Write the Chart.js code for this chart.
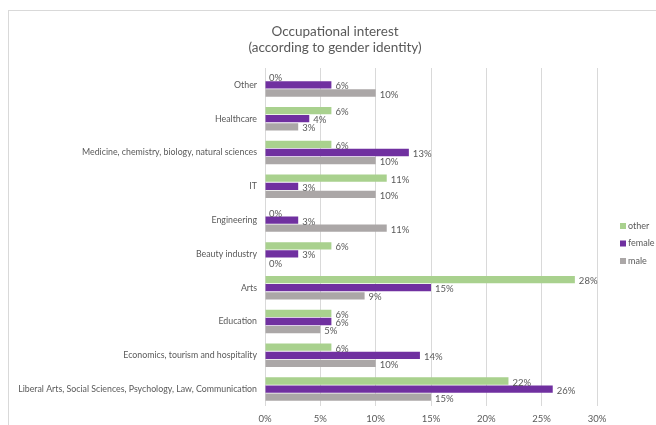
<!DOCTYPE html>
<html>
<head>
<meta charset="utf-8">
<script src="https://cdn.jsdelivr.net/npm/chart.js@4"></script>
<style>
  html, body { margin: 0; padding: 0; background: #fff; overflow: hidden; }
  #frame { position: absolute; left: 8px; top: 10px; width: 700px; height: 500px;
           border-left: 1px solid #d9d9d9; border-top: 1px solid #d9d9d9; }
  #chart { position: absolute; left: 0; top: 0; }
</style>
</head>
<body>
<div id="frame"></div>
<canvas id="chart" width="656" height="425"></canvas>
<script>
// categorias de cima para baixo
const categorias = [
    'Other',
    'Healthcare',
    'Medicine, chemistry, biology, natural sciences',
    'IT',
    'Engineering',
    'Beauty industry',
    'Arts',
    'Education',
    'Economics, tourism and hospitality',
    'Liberal Arts, Social Sciences, Psychology, Law, Communication'
];
const valoresOther  = [0, 6, 6, 11, 0, 6, 28, 6, 6, 22];
const valoresFemale = [6, 4, 13, 3, 3, 3, 15, 6, 14, 26];
const valoresMale   = [10, 3, 10, 10, 11, 0, 9, 5, 10, 15];
const ticksX = [0, 5, 10, 15, 20, 25, 30];

const corTexto = '#595959';
const fonte = 'Lato';

// rótulos de valor no fim de cada barra
const rotulosPlugin = {
    id: 'rotulos',
    afterDatasetsDraw(chart) {
        const ctx = chart.ctx;
        ctx.save();
        ctx.font = `9.5px ${fonte}`;
        ctx.fillStyle = corTexto;
        ctx.textAlign = 'left';
        ctx.textBaseline = 'middle';
        chart.data.datasets.forEach((ds, i) => {
            chart.getDatasetMeta(i).data.forEach((bar, j) => {
                ctx.fillText(ds.data[j] + '%', bar.x + 4, bar.y + 1.5);
            });
        });
        ctx.restore();
    }
};

// legenda à direita, no espaço reservado pelo eixo y2
const legendaPlugin = {
    id: 'legenda',
    afterDraw(chart) {
        const ctx = chart.ctx;
        const area = chart.chartArea;
        ctx.save();
        ctx.font = `9px ${fonte}`;
        ctx.textAlign = 'left';
        ctx.textBaseline = 'middle';
        chart.data.datasets.forEach((ds, i) => {
            const x = area.right + 23;
            const y = area.top + 158 + i * 17.5;
            ctx.fillStyle = ds.backgroundColor;
            ctx.fillRect(x, y - 3, 6, 6);
            ctx.fillStyle = corTexto;
            ctx.fillText(ds.label, x + 8, y);
        });
        ctx.restore();
    }
};

new Chart(document.getElementById('chart'), {
    type: 'bar',
    data: {
        labels: categorias,
        datasets: [
            { label: 'other',  data: valoresOther,  backgroundColor: '#a9d18e' },
            { label: 'female', data: valoresFemale, backgroundColor: '#7030a0' },
            { label: 'male',   data: valoresMale,   backgroundColor: '#aba7a7' }
        ]
    },
    options: {
        indexAxis: 'y',
        responsive: false,
        devicePixelRatio: 1,
        animation: false,
        categoryPercentage: 0.72,
        barPercentage: 0.9,
        layout: { padding: { left: 14, right: 0, top: 0, bottom: 0 } },
        scales: {
            x: {
                min: 0,
                max: 30,
                afterBuildTicks: s => { s.ticks = ticksX.map(v => ({ value: v })); },
                afterFit: s => { s.height = 19; },
                grid: { color: '#d9d9d9', drawTicks: false },
                border: { display: false },
                ticks: {
                    padding: 7,
                    color: corTexto,
                    font: { family: fonte, size: 9.5 },
                    callback: v => v + '%'
                }
            },
            y: {
                afterFit: s => { s.width = 265 - 14; },
                grid: { display: false, drawTicks: false },
                border: { display: false },
                ticks: {
                    autoSkip: false,
                    padding: 8,
                    color: corTexto,
                    font: { family: fonte, size: 8.8 }
                }
            },
            // eixo vazio só para abrir espaço à direita para a legenda
            y2: {
                position: 'right',
                afterFit: s => { s.width = 656 - 597; },
                grid: { display: false, drawTicks: false },
                border: { display: false },
                ticks: { display: false }
            }
        },
        plugins: {
            legend: { display: false },
            tooltip: { enabled: false },
            title: {
                display: true,
                text: ['Occupational interest', '(according to gender identity)'],
                color: corTexto,
                font: { family: fonte, size: 13.5, weight: 'normal', lineHeight: 1.2 },
                padding: { top: 23.5, bottom: 12.1 }
            }
        }
    },
    plugins: [rotulosPlugin, legendaPlugin]
});
</script>
</body>
</html>
